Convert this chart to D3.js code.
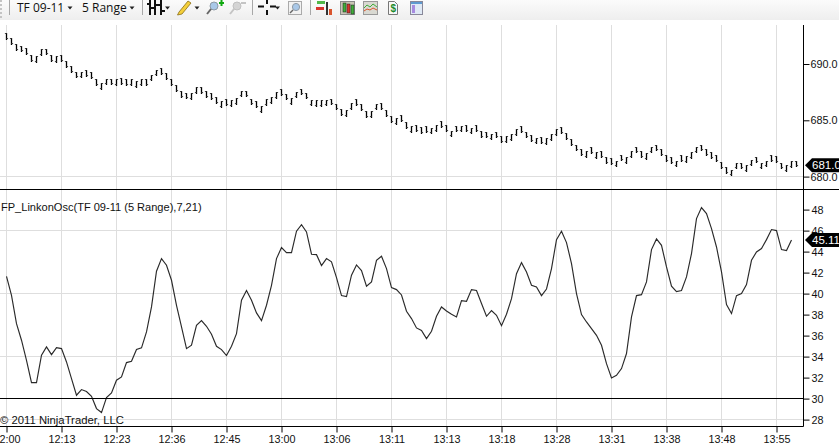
<!DOCTYPE html>
<html>
<head>
<meta charset="utf-8">
<script src="https://cdnjs.cloudflare.com/ajax/libs/d3/7.8.5/d3.min.js"></script>
<style>
html, body { margin: 0; padding: 0; background: #fff; overflow: hidden; }
svg { display: block; }
text { font-family: "Liberation Sans", Arial, sans-serif; }
</style>
</head>
<body>
<div id="chart"></div>
<script>
var width = 839;
var height = 447;

// time labels, one every 11 bars
var timeLabels = ["12:00","12:13","12:23","12:36","12:45","13:00","13:06","13:11","13:13","13:18","13:28","13:31","13:38","13:48","13:55"];
var barsPerLabel = 11;

// range bars: middle of every bar, and its direction (u = closed up, d = closed down)
var barRange = 0.5;
var barMid = [
692.50,692.05,691.49,691.37,691.17,690.51,690.42,691.07,691.10,690.51,690.42,690.51,690.01,689.57,689.06,689.06,689.18,689.00,688.41,688.05,
688.44,688.44,688.38,688.50,688.38,688.38,688.23,688.38,688.38,688.79,689.24,689.39,688.94,688.41,687.88,687.31,687.20,687.17,687.67,687.67,
687.31,687.17,686.81,686.46,686.63,686.54,686.72,687.37,687.37,686.66,686.43,686.01,686.60,686.81,687.26,687.49,687.11,686.72,687.28,687.55,
687.20,686.58,686.54,686.54,686.58,686.66,686.22,685.72,685.63,686.25,686.60,686.16,685.57,685.54,686.22,686.25,685.63,685.09,684.92,685.18,
684.59,684.21,684.33,684.15,684.21,684.09,684.30,684.68,684.33,683.82,684.27,684.27,684.30,684.09,684.30,683.79,683.73,683.56,683.73,683.35,
683.32,683.53,683.94,684.21,683.73,683.41,683.20,683.26,683.14,683.53,683.97,684.12,683.59,683.08,682.58,682.19,682.02,682.37,681.93,681.99,
681.48,681.39,681.16,681.69,681.45,682.02,682.40,682.02,681.84,682.40,682.58,682.19,681.63,681.45,681.16,681.63,681.54,681.93,682.40,682.58,
682.19,681.93,681.63,681.04,680.60,680.36,680.98,680.98,680.74,681.25,681.51,680.98,681.16,681.63,681.54,680.98,680.74,681.10,681.16];
var barDir = [
"d","d","d","d","d","d","u","u","d","d","u","d","d","d","d","u","d","d","d","u",
"u","d","u","d","d","u","u","u","d","u","u","d","d","d","d","d","d","u","u","d",
"d","d","d","u","d","u","u","u","d","d","d","u","u","u","u","d","d","u","u","d",
"d","u","u","u","u","d","d","d","u","u","d","d","d","u","u","d","d","d","u","d",
"d","u","d","d","d","u","u","d","d","u","d","u","d","u","d","d","d","u","d","d",
"u","u","u","d","d","d","u","d","u","u","u","d","d","d","d","d","u","d","u","d",
"d","d","u","d","u","u","d","d","u","u","d","d","d","d","u","d","u","u","u","d",
"d","d","d","d","d","u","u","d","u","u","d","u","u","d","d","d","u","u","d"];

// oscillator, one value per bar
var oscValues = [
41.65,39.84,37.14,35.56,33.65,31.52,31.52,34.13,34.92,34.19,34.86,34.76,33.49,31.90,30.32,30.86,30.67,30.22,29.05,28.67,
30.10,30.54,31.75,32.06,33.43,33.56,34.67,34.83,36.35,38.73,42.13,43.33,42.70,41.27,38.89,36.83,34.76,35.08,36.98,37.43,
36.89,36.13,34.98,34.67,34.10,34.98,36.19,39.37,40.29,39.37,38.16,37.43,38.89,40.79,43.33,44.38,43.90,43.90,45.94,46.57,
45.87,43.75,43.71,42.67,43.33,43.02,41.52,39.81,39.71,41.75,42.73,42.19,40.70,41.11,43.17,43.56,42.38,40.57,40.38,39.87,
38.32,37.62,36.73,36.48,35.71,36.41,37.84,38.73,38.35,38.03,37.78,39.33,39.27,40.38,40.29,39.05,37.84,38.38,37.94,36.95,
38.03,39.52,41.90,42.95,42.06,40.79,40.63,39.81,40.44,42.38,45.14,45.94,44.86,42.86,40.00,38.00,37.30,36.67,36.03,35.08,
33.33,31.97,32.22,32.86,34.29,37.78,39.81,39.90,41.11,44.19,45.21,44.60,42.54,40.70,40.19,40.29,41.59,43.81,47.14,48.19,
47.62,46.19,44.44,42.06,38.95,38.10,39.81,40.00,40.86,43.17,43.97,44.29,45.14,46.10,46.00,44.19,44.10,45.11];

var priceTicks = [680, 685, 690];
var priceGrid = [680];
var oscTicks = [28,30,32,34,36,38,40,42,44,46,48];
var oscGrid = [28,34,40,46];
var oscLevel = 30;
var lastPrice = 681.0;
var lastOsc = 45.11;
var oscTitle = "FP_LinkonOsc(TF 09-11 (5 Range),7,21)";
var copyright = "\u00A9 2011 NinjaTrader, LLC";
var instrument = "TF 09-11";
var period = "5 Range";

var axisX = 803.5, topY = 25, splitY = 189.5, bottomY = 426.5;

var x = d3.scaleLinear().domain([0, 154]).range([6.5, 776.5]);
var yPrice = d3.scaleLinear().domain([680, 690]).range([176.6, 64.0]);
var yOsc = d3.scaleLinear().domain([28, 48]).range([419.6, 209.6]);

var svg = d3.select("#chart").append("svg").attr("width", width).attr("height", height);

// toolbar
var defs = svg.append("defs");
var grad = defs.append("linearGradient").attr("id", "bar").attr("x1", 0).attr("x2", 0).attr("y1", 0).attr("y2", 1);
grad.append("stop").attr("offset", "0%").attr("stop-color", "#fbfbfb");
grad.append("stop").attr("offset", "100%").attr("stop-color", "#eeeeee");
var tb = svg.append("g");
tb.append("rect").attr("width", width).attr("height", 20).attr("fill", "url(#bar)");
[0, 4, 8, 12, 16].forEach(function (d) {
  tb.append("rect").attr("x", 0).attr("y", d).attr("width", 2).attr("height", 2).attr("fill", "#c4c4c4");
});
[9.5, 142.5, 252.5, 310.5].forEach(function (d) {
  tb.append("line").attr("x1", d).attr("x2", d).attr("y1", 0).attr("y2", 15).attr("stroke", "#a8a8a8");
});
tb.append("text").attr("x", 17).attr("y", 12).attr("font-size", 12).attr("fill", "#111").style("font-family", "'Open Sans'").text(instrument);
tb.append("text").attr("x", 82).attr("y", 12).attr("font-size", 12).attr("fill", "#111").style("font-family", "'Open Sans'").text(period);
[70, 132, 167.5, 197, 277.5].forEach(function (d) {
  tb.append("path").attr("d", "M" + (d - 2.5) + ",6.5h5l-2.5,3z").attr("fill", "#222");
});
// bars icon
[149, 154, 160].forEach(function (d) {
  tb.append("rect").attr("x", d).attr("y", 0).attr("width", 2).attr("height", 15).attr("fill", "#111");
});
tb.append("path").attr("d", "M147,4h2M151,8h3M156,5h4M162,11h3").attr("stroke", "#111").attr("stroke-width", 2);
// pencil
tb.append("path").attr("d", "M179,12L188,1L191,3L182,14L177.5,15z").attr("fill", "#f4cf3a").attr("stroke", "#8a6d16").attr("stroke-width", 0.8);
// zoom in and out
tb.append("circle").attr("cx", 214).attr("cy", 6).attr("r", 4).attr("fill", "#a9c8e8").attr("stroke", "#8f9aa5");
tb.append("line").attr("x1", 211).attr("y1", 9).attr("x2", 207).attr("y2", 14).attr("stroke", "#666").attr("stroke-width", 2);
tb.append("path").attr("d", "M219,3h5M221.5,0v6").attr("stroke", "#10a810").attr("stroke-width", 2);
tb.append("circle").attr("cx", 237).attr("cy", 6).attr("r", 4).attr("fill", "#d4d4d4").attr("stroke", "#c0c0c0");
tb.append("line").attr("x1", 234).attr("y1", 9).attr("x2", 230).attr("y2", 14).attr("stroke", "#c4c4c4").attr("stroke-width", 2);
tb.append("path").attr("d", "M241,3h5").attr("stroke", "#c4c4c4").attr("stroke-width", 2);
// crosshair
tb.append("path").attr("d", "M258,6.5h6M270,6.5h6M267,0v4M267,10v5").attr("stroke", "#111").attr("stroke-width", 2);
// magnifier
tb.append("rect").attr("x", 288.5).attr("y", 1.5).attr("width", 13).attr("height", 13).attr("fill", "#f2f2f2").attr("stroke", "#aaa");
tb.append("circle").attr("cx", 296).attr("cy", 7).attr("r", 3.6).attr("fill", "#a9c8e8").attr("stroke", "#8f9aa5");
tb.append("line").attr("x1", 293).attr("y1", 10).attr("x2", 290).attr("y2", 13).attr("stroke", "#666").attr("stroke-width", 1.5);
// strategy and window icons
tb.append("rect").attr("x", 317).attr("y", 1).attr("width", 8).attr("height", 3).attr("fill", "#52b84a");
tb.append("rect").attr("x", 316).attr("y", 7).attr("width", 8).attr("height", 3).attr("fill", "#d9342c");
tb.append("rect").attr("x", 326).attr("y", 2).attr("width", 2).attr("height", 13).attr("fill", "#333");
tb.append("rect").attr("x", 329).attr("y", 9).attr("width", 3).attr("height", 6).attr("fill", "#d9542c");
tb.append("rect").attr("x", 340.5).attr("y", 1.5).attr("width", 14).attr("height", 13).attr("fill", "#c9c6b6").attr("stroke", "#888");
[343, 347, 351].forEach(function (d, i) {
  tb.append("rect").attr("x", d).attr("y", 3 + i).attr("width", 3).attr("height", 9).attr("fill", i == 1 ? "#d9342c" : "#3fae3a").attr("stroke", "#222").attr("stroke-width", 0.5);
});
tb.append("rect").attr("x", 363.5).attr("y", 1.5).attr("width", 14).attr("height", 13).attr("fill", "#d9d9d2").attr("stroke", "#999");
tb.append("path").attr("d", "M364,8l3,-3l3,2l3,-3l4,3").attr("fill", "none").attr("stroke", "#3fae3a");
tb.append("path").attr("d", "M364,11l3,-2l3,1l3,-2l4,2").attr("fill", "none").attr("stroke", "#d9542c");
tb.append("path").attr("d", "M388.5,1.5h6l3,3v10h-9z").attr("fill", "#f8f8f8").attr("stroke", "#777");
tb.append("text").attr("x", 390.5).attr("y", 12).attr("font-size", 10).attr("font-weight", "bold").attr("fill", "#1c8a2c").text("$");
tb.append("rect").attr("x", 410.5).attr("y", 1.5).attr("width", 12).attr("height", 13).attr("fill", "#dfe9f5").attr("stroke", "#889");
tb.append("rect").attr("x", 411).attr("y", 2).attr("width", 11).attr("height", 2).attr("fill", "#5e9ad0");
tb.append("rect").attr("x", 412).attr("y", 5).attr("width", 3).attr("height", 8).attr("fill", "#a78ae0");

// grid
var grid = svg.append("g").attr("stroke", "#dedede").attr("fill", "none");
grid.selectAll(".v").data(timeLabels).enter().append("line")
  .attr("x1", function (d, i) { return x(i * barsPerLabel); })
  .attr("x2", function (d, i) { return x(i * barsPerLabel); })
  .attr("y1", topY).attr("y2", bottomY);
grid.selectAll(".p").data(priceGrid).enter().append("line")
  .attr("x1", 0).attr("x2", axisX)
  .attr("y1", function (d) { return Math.floor(yPrice(d)) + 0.5; })
  .attr("y2", function (d) { return Math.floor(yPrice(d)) + 0.5; });
grid.selectAll(".o").data(oscGrid).enter().append("line")
  .attr("x1", 0).attr("x2", axisX)
  .attr("y1", function (d) { return Math.floor(yOsc(d)) + 0.5; })
  .attr("y2", function (d) { return Math.floor(yOsc(d)) + 0.5; });

// price bars, stem first then open and close ticks
var bars = svg.append("g").attr("fill", "none");
bars.selectAll(".stem").data(barMid).enter().append("path")
  .attr("stroke", "#000").attr("stroke-width", 1.3)
  .attr("d", function (d, i) {
    return "M" + x(i) + "," + Math.round(yPrice(d + barRange / 2)) + "V" + Math.round(yPrice(d - barRange / 2) + 1);
  });
bars.selectAll(".tick").data(barMid).enter().append("path")
  .attr("stroke", "#444").attr("stroke-width", 1)
  .attr("d", function (d, i) {
    var hi = Math.round(yPrice(d + barRange / 2));
    var lo = Math.round(yPrice(d - barRange / 2) + 1);
    var open = barDir[i] == "u" ? lo - 1.5 : hi + 0.5;
    var close = barDir[i] == "u" ? hi + 0.5 : lo - 1.5;
    return "M" + (x(i) - 1.6) + "," + open + "H" + x(i) +
      "M" + x(i) + "," + close + "H" + (x(i) + 1.6);
  });

// oscillator
var line = d3.line()
  .x(function (d, i) { return x(i); })
  .y(function (d) { return yOsc(d); });
svg.append("path").datum(oscValues)
  .attr("d", line)
  .attr("fill", "none")
  .attr("stroke", "#2a2a2a")
  .attr("stroke-width", 1.15);

// axes and frame
var frame = svg.append("g").attr("stroke", "#000");
frame.append("line").attr("x1", 0).attr("x2", width).attr("y1", splitY).attr("y2", splitY);
frame.append("line").attr("x1", 0).attr("x2", axisX).attr("y1", Math.floor(yOsc(oscLevel)) + 0.5).attr("y2", Math.floor(yOsc(oscLevel)) + 0.5);
frame.append("line").attr("x1", axisX).attr("x2", axisX).attr("y1", topY).attr("y2", bottomY);
frame.append("line").attr("x1", 0).attr("x2", axisX).attr("y1", bottomY).attr("y2", bottomY);

function styleAxis(g) {
  g.select(".domain").remove();
  g.selectAll("text").attr("font-size", 10.8).attr("fill", "#111").style("font-family", "'Liberation Sans'");
  g.selectAll("line").attr("stroke", "#000");
}

svg.append("g").attr("transform", "translate(" + axisX + ",0)")
  .call(d3.axisRight(yPrice).tickValues(priceTicks).tickSize(6).tickPadding(1).tickFormat(d3.format(".1f")))
  .call(styleAxis);
svg.append("g").attr("transform", "translate(" + axisX + ",0)")
  .call(d3.axisRight(yOsc).tickValues(oscTicks).tickSize(6).tickPadding(2))
  .call(styleAxis);
svg.append("g").attr("transform", "translate(0," + bottomY + ")")
  .call(d3.axisBottom(x)
    .tickValues(timeLabels.map(function (d, i) { return i * barsPerLabel; }))
    .tickSize(6).tickPadding(3)
    .tickFormat(function (d) { return timeLabels[d / barsPerLabel]; }))
  .call(styleAxis);

// last value flags
function flag(y, label) {
  svg.append("path")
    .attr("d", "M805," + y + "L812," + (y - 7) + "H839V" + (y + 7) + "H812Z")
    .attr("fill", "#000");
  svg.append("text").attr("x", 812).attr("y", y + 4).attr("font-size", 11.5).attr("fill", "#fff").text(label);
}
flag(yPrice(lastPrice), lastPrice.toFixed(1));
flag(yOsc(lastOsc), lastOsc.toFixed(2));

// titles
svg.append("text").attr("x", 1).attr("y", 211).attr("font-size", 11.05).attr("fill", "#111").text(oscTitle);
svg.append("text").attr("x", 0).attr("y", 424).attr("font-size", 11.3).attr("fill", "#111").text(copyright);
</script>
</body>
</html>
